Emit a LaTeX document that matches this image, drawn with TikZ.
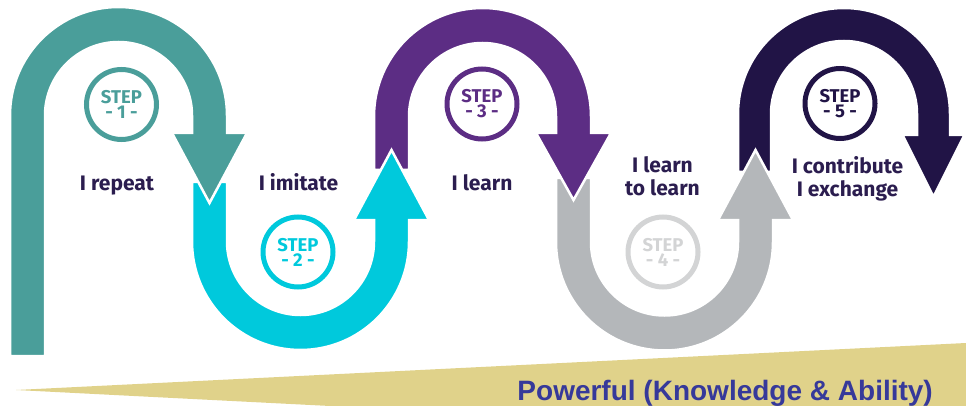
\documentclass[tikz,border=0pt]{standalone}
\usepackage{fontspec}
\setmainfont{Fira Sans}
\newfontfamily\arialfont{Liberation Sans}
\definecolor{cteal}{HTML}{4A9E9A}
\definecolor{ccyan}{HTML}{00C9DC}
\definecolor{cpurple}{HTML}{5C2D84}
\definecolor{cgray}{HTML}{B4B7BA}
\definecolor{clightgray}{HTML}{D3D4D5}
\definecolor{cdark}{HTML}{211446}
\definecolor{clabel}{HTML}{2B1D4F}
\definecolor{cbanner}{HTML}{E0D28A}
\definecolor{cbannertext}{HTML}{36399A}
\tikzset{
  band/.style={draw=white, line width=2.5pt, line join=miter},
  stepcircle/.style={circle, line width=5pt, minimum size=70pt, inner sep=0pt, align=center,
     font=\fontsize{18.5}{15}\selectfont\bfseries},
  lbl/.style={text=clabel, align=center, inner sep=0pt, font=\fontsize{21}{23}\selectfont\bfseries},
}
\begin{document}
\begin{tikzpicture}[x=1pt,y=-1pt]
\useasboundingbox (0,0) rectangle (966,406);
\clip (0,0) rectangle (966,406);

% banner
\fill[cbanner] (16,390) -- (966,343) -- (966,406) -- (330,406) -- cycle;
\node[anchor=base east, text=cbannertext, inner sep=0pt,
      font=\arialfont\bfseries\fontsize{28}{30}\selectfont] (banner) at (933,400)
      {Powerful (Knowledge \& Ability)};

% arc 5 (dark)
\fill[cdark, band] (738,172) -- (738,114) arc[start angle=180, end angle=360, radius=106]
  -- (950,135) -- (964.5,135) -- (933.5,197) -- (902.5,135) -- (917,135)
  -- (917,114) arc[start angle=360, end angle=180, radius=73] -- (771,172) -- cycle;
% U 4 (gray)
\fill[cgray, band] (556,178) -- (556,242) arc[start angle=180, end angle=0, radius=108.5]
  -- (773,220) -- (793,220) -- (755.5,150) -- (718,220) -- (738,220)
  -- (738,242) arc[start angle=0, end angle=180, radius=73.5] -- (591,178) -- cycle;
% arc 3 (purple)
\fill[cpurple, band] (374,170) -- (374,116.5) arc[start angle=180, end angle=360, radius=108.5]
  -- (591,133) -- (611,133) -- (573.5,200) -- (536,133) -- (556,133)
  -- (556,116.5) arc[start angle=360, end angle=180, radius=73.5] -- (409,170) -- cycle;
% U 2 (cyan)
\fill[ccyan, band] (192,182) -- (192,241.5) arc[start angle=180, end angle=0, radius=108.5]
  -- (409,220) -- (429,220) -- (391.5,150) -- (354,220) -- (374,220)
  -- (374,241.5) arc[start angle=0, end angle=180, radius=73.5] -- (227,182) -- cycle;
% arc 1 (teal)
\fill[cteal, band] (10,356) -- (10,115.5) arc[start angle=180, end angle=360, radius=108.5]
  -- (227,133) -- (247,133) -- (209.5,203) -- (172,133) -- (192,133)
  -- (192,115.5) arc[start angle=360, end angle=180, radius=73.5] -- (45,356) -- cycle;

% step circles
\node[stepcircle, draw=cteal, text=cteal] (s1) at (121.5,104.5) {STEP\\- 1 -};
\node[stepcircle, draw=ccyan, text=ccyan] (s2) at (298,252) {STEP\\- 2 -};
\node[stepcircle, draw=cpurple, text=cpurple] (s3) at (482,104) {STEP\\- 3 -};
\node[stepcircle, draw=clightgray, text=clightgray] (s4) at (663,252) {STEP\\- 4 -};
\node[stepcircle, draw=cdark, text=cdark] (s5) at (840,103.5) {STEP\\- 5 -};

% labels
\node[lbl, anchor=base] (l1) at (117,191) {I repeat};
\node[lbl, anchor=base] (l2) at (298.5,191) {I imitate};
\node[lbl, anchor=base] (l3) at (482,191) {I learn};
\node[lbl] (l4) at (662.5,176) {I learn\\to learn};
\node[lbl] (l5) at (847.5,178.5) {I contribute\\I exchange};
\end{tikzpicture}
\end{document}
